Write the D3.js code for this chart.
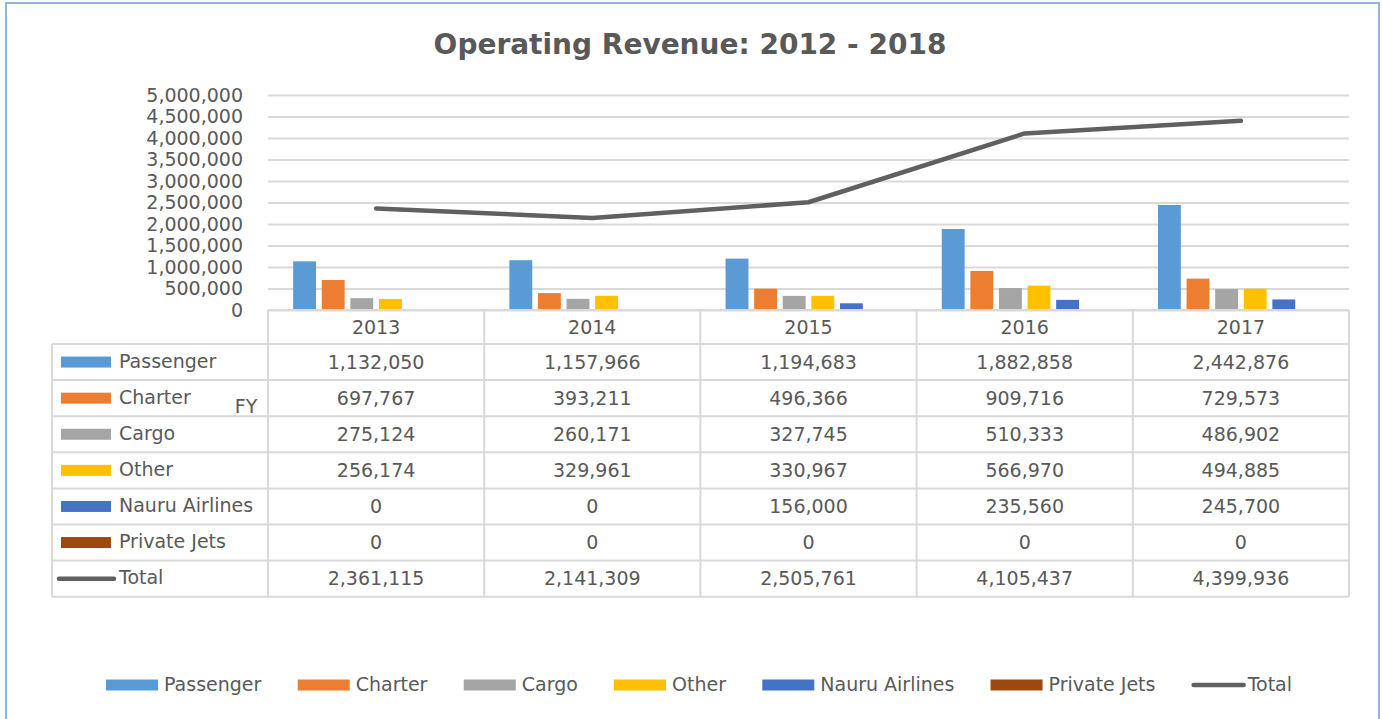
<!DOCTYPE html>
<html>
<head>
<meta charset="utf-8">
<script src="https://cdn.jsdelivr.net/npm/d3@7"></script>
<style>
  body { margin: 0; background: #fff; }
  svg { display: block; }
  text { font-family: "DejaVu Sans", sans-serif; fill: #595959; }
</style>
</head>
<body>
<div id="chart"></div>
<script>
// --- Data ---
const years = ["2013", "2014", "2015", "2016", "2017"];
const seriesNames = ["Passenger", "Charter", "Cargo", "Other", "Nauru Airlines", "Private Jets"];
const passenger = [1132050, 1157966, 1194683, 1882858, 2442876];
const charter = [697767, 393211, 496366, 909716, 729573];
const cargo = [275124, 260171, 327745, 510333, 486902];
const other = [256174, 329961, 330967, 566970, 494885];
const nauru = [0, 0, 156000, 235560, 245700];
const privateJets = [0, 0, 0, 0, 0];
const total = [2361115, 2141309, 2505761, 4105437, 4399936];
const yTicks = [0, 500000, 1000000, 1500000, 2000000, 2500000, 3000000, 3500000, 4000000, 4500000, 5000000];

const seriesValues = [passenger, charter, cargo, other, nauru, privateJets];
const colors = ["#5B9BD5", "#ED7D31", "#A5A5A5", "#FFC000", "#4472C4", "#9E480E"];
const totalColor = "#606060";
const gridColor = "#d9d9d9";

// --- Layout ---
const W = 1382, H = 719;
const plotL = 268, plotR = 1349, yTop = 95, yBot = 310;
const tableL = 52, headTop = 310, rowTop = 344, rowH = 36.1;
const fmt = d3.format(",");

const svg = d3.select("#chart").append("svg")
  .attr("width", W).attr("height", H);

svg.append("rect")
  .attr("x", 6).attr("y", 3)
  .attr("width", 1373).attr("height", 740)
  .attr("fill", "#fff")
  .attr("stroke", "#8fb6e0")
  .attr("stroke-width", 2);

// --- Title ---
svg.append("text")
  .attr("x", 690).attr("y", 54)
  .attr("text-anchor", "middle")
  .style("font-size", "28px")
  .style("font-weight", "bold")
  .text("Operating Revenue: 2012 - 2018");

// --- Scales ---
const x0 = d3.scaleBand().domain(years).range([plotL, plotR]);
const x1 = d3.scaleBand().domain(seriesNames).range([0, x0.bandwidth()])
  .paddingInner(0.2).paddingOuter(0.88);
const y = d3.scaleLinear().domain([0, 5000000]).range([yBot, yTop]);

// --- Y axis with gridlines ---
const yAxis = svg.append("g")
  .attr("transform", `translate(${plotL},0)`)
  .call(d3.axisLeft(y).tickValues(yTicks).tickFormat(fmt)
    .tickSize(-(plotR - plotL)).tickPadding(25));
yAxis.select(".domain").remove();
yAxis.selectAll(".tick line").attr("stroke", gridColor).attr("stroke-width", 2);
yAxis.selectAll(".tick text")
  .attr("fill", "#595959")
  .style("font-family", "DejaVu Sans, sans-serif")
  .style("font-size", "19px");

// --- Bars ---
const groups = svg.append("g").selectAll("g")
  .data(years)
  .join("g")
  .attr("transform", d => `translate(${x0(d)},0)`);

groups.selectAll("rect")
  .data((d, i) => seriesNames.map((s, j) => ({ s, v: seriesValues[j][i], c: colors[j] })))
  .join("rect")
  .attr("x", d => x1(d.s))
  .attr("y", d => y(d.v))
  .attr("width", x1.bandwidth())
  .attr("height", d => yBot - y(d.v))
  .attr("fill", d => d.c);

// --- Total line ---
const line = d3.line()
  .x((d, i) => x0(years[i]) + x0.bandwidth() / 2)
  .y(d => y(d));
svg.append("path")
  .datum(total)
  .attr("d", line)
  .attr("fill", "none")
  .attr("stroke", totalColor)
  .attr("stroke-width", 4.5)
  .attr("stroke-linecap", "round")
  .attr("stroke-linejoin", "round");

// --- Data table ---
const rows = seriesNames.map((n, i) => ({ name: n, values: seriesValues[i], color: colors[i], isLine: false }))
  .concat([{ name: "Total", values: total, color: totalColor, isLine: true }]);
const tableBot = rowTop + rows.length * rowH;

const grid = svg.append("g")
  .attr("stroke", gridColor).attr("stroke-width", 2);
// header row top border
grid.append("line").attr("x1", plotL).attr("x2", plotR).attr("y1", headTop).attr("y2", headTop);
// horizontal row lines
d3.range(rows.length + 1).forEach(i => {
  grid.append("line")
    .attr("x1", tableL).attr("x2", plotR)
    .attr("y1", rowTop + i * rowH).attr("y2", rowTop + i * rowH);
});
// vertical lines
grid.append("line").attr("x1", tableL).attr("x2", tableL).attr("y1", rowTop).attr("y2", tableBot);
years.forEach(yr => {
  grid.append("line").attr("x1", x0(yr)).attr("x2", x0(yr)).attr("y1", headTop).attr("y2", tableBot);
});
grid.append("line").attr("x1", plotR).attr("x2", plotR).attr("y1", headTop).attr("y2", tableBot);

// year headers
svg.append("g").selectAll("text")
  .data(years)
  .join("text")
  .attr("x", d => x0(d) + x0.bandwidth() / 2)
  .attr("y", (headTop + rowTop) / 2)
  .attr("dy", "0.35em")
  .attr("text-anchor", "middle")
  .style("font-size", "19px")
  .text(d => d);

const rowG = svg.append("g").selectAll("g")
  .data(rows)
  .join("g")
  .attr("transform", (d, i) => `translate(0,${rowTop + i * rowH + rowH / 2})`);

rowG.filter(d => !d.isLine).append("rect")
  .attr("x", 61).attr("y", -5.5)
  .attr("width", 50).attr("height", 11)
  .attr("fill", d => d.color);
rowG.filter(d => d.isLine).append("line")
  .attr("x1", 59).attr("x2", 114)
  .attr("stroke", d => d.color)
  .attr("stroke-width", 4.5)
  .attr("stroke-linecap", "round");

rowG.append("text")
  .attr("x", 119)
  .attr("dy", "0.3em")
  .style("font-size", "19px")
  .text(d => d.name);

rowG.selectAll(".val")
  .data(d => d.values)
  .join("text")
  .attr("class", "val")
  .attr("x", (d, i) => x0(years[i]) + x0.bandwidth() / 2)
  .attr("dy", "0.35em")
  .attr("text-anchor", "middle")
  .style("font-size", "19px")
  .text(d => fmt(d));

// axis title
svg.append("text")
  .attr("x", 246).attr("y", rowTop + rowH * 1.5 + 8)
  .attr("dy", "0.35em")
  .attr("text-anchor", "middle")
  .style("font-size", "19px")
  .text("FY");

// --- Bottom legend (spread from x=106 to x=1290) ---
const legendY = 685, legendL = 106, legendR = 1290;
const legend = svg.append("g");
const items = legend.selectAll("g")
  .data(rows)
  .join("g");
items.each(function(d) {
  const g = d3.select(this);
  if (d.isLine) {
    g.append("line").attr("x1", 2).attr("x2", 52).attr("y1", 0).attr("y2", 0)
      .attr("stroke", d.color).attr("stroke-width", 4.5).attr("stroke-linecap", "round");
  } else {
    g.append("rect").attr("x", 0).attr("y", -5.5).attr("width", 52).attr("height", 11)
      .attr("fill", d.color);
  }
  g.append("text").attr("x", d.isLine ? 56 : 58).attr("dy", "0.32em")
    .style("font-size", "19px").text(d.name);
});
const widths = [];
items.each(function() { widths.push(this.getBBox().width); });
const gap = (legendR - legendL - d3.sum(widths)) / (widths.length - 1);
let cx = legendL;
items.attr("transform", (d, i) => {
  const t = `translate(${cx},${legendY})`;
  cx += widths[i] + gap;
  return t;
});
</script>
</body>
</html>
